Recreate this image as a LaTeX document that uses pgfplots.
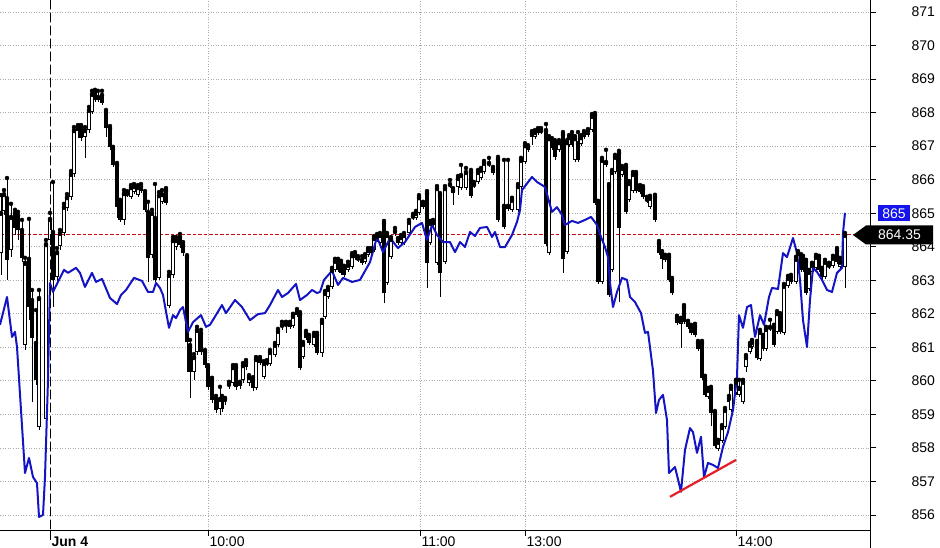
\documentclass[border=0pt]{standalone}
\usepackage{pgfplots}
\pgfplotsset{compat=1.18}
\usepackage{pgfplotstable}
\usepackage{fontspec}
\setmainfont{Liberation Sans}
\definecolor{bluel}{RGB}{20,20,195}
\definecolor{tagblue}{RGB}{20,20,235}
\definecolor{hred}{RGB}{200,10,20}
\definecolor{tred}{RGB}{228,30,40}
\definecolor{gridc}{RGB}{170,170,170}

\pgfplotstableread{
x o h l c
1 863.81 865.54 863.16 865.01
4 865.07 865.69 864.95 865.57
7 865.45 866.05 863.01 863.61
11 863.90 865.28 863.70 864.89
15 865.01 865.10 864.35 864.56
18 864.95 865.04 864.20 864.50
22 864.50 864.80 863.55 863.67
25 861.07 863.67 860.92 863.52
29 863.64 864.83 861.82 862.20
32 862.41 862.71 859.37 861.28
36 861.13 862.11 859.88 860.03
39 858.62 862.71 858.54 862.47
46 858.86 864.20 858.77 864.08
50 864.20 865.01 864.05 864.83
53 864.44 865.93 862.20 863.01
57 863.10 863.96 862.95 863.84
60 864.02 864.50 863.90 864.41
64 864.41 865.28 864.32 865.19
67 865.16 865.57 865.07 865.48
71 865.48 866.26 865.40 866.17
74 866.17 867.57 866.08 867.48
78 867.57 867.63 867.24 867.45
81 867.57 867.63 867.15 867.24
85 867.27 867.57 866.65 867.48
89 867.48 868.17 867.39 868.08
92 868.02 868.65 867.96 868.56
95 868.62 868.68 868.32 868.38
98 868.38 868.65 868.32 868.47
102 868.53 868.65 868.23 868.29
106 868.02 868.08 867.27 867.54
110 867.54 867.60 866.89 866.98
113 866.92 866.98 866.38 866.44
117 866.44 866.50 864.86 865.19
120 865.34 865.40 864.74 864.80
124 864.80 865.69 864.65 865.60
127 865.54 865.66 865.48 865.60
131 865.48 865.84 865.43 865.78
134 865.63 865.87 865.57 865.81
138 865.54 865.84 865.48 865.78
141 865.81 865.87 865.60 865.66
145 865.60 865.66 865.04 865.10
148 865.04 865.34 862.95 863.67
152 863.75 865.10 863.67 865.01
155 864.86 865.87 862.95 863.01
159 863.07 865.63 863.01 865.54
162 865.34 865.69 865.28 865.57
166 865.69 865.75 865.25 865.31
169 862.23 863.25 862.17 863.16
173 863.16 864.29 863.07 864.20
176 863.99 864.29 863.90 864.20
180 864.29 864.38 863.96 864.05
183 864.08 864.14 863.72 863.81
187 863.70 863.75 860.26 861.16
190 861.07 861.22 859.49 860.26
194 860.26 860.80 860.03 860.71
197 860.86 861.61 860.77 861.52
201 861.43 861.52 860.77 860.86
205 860.86 860.92 860.38 860.47
208 860.41 860.47 859.73 859.82
212 860.03 860.09 859.34 859.43
216 859.49 859.55 859.04 859.13
220 859.16 859.82 858.98 859.46
222 859.49 859.55 859.07 859.16
225 859.40 859.49 859.28 859.46
229 859.85 859.97 859.76 859.91
233 859.94 860.47 859.85 860.41
236 860.41 860.47 859.73 859.82
240 859.94 859.97 859.76 859.85
243 860.03 860.53 859.94 860.47
246 860.56 860.62 860.32 860.41
249 859.94 860.17 859.85 860.11
253 860.06 860.11 859.70 859.79
256 859.79 860.71 859.73 860.65
260 860.53 860.71 860.47 860.65
264 860.11 860.59 860.06 860.53
267 860.50 860.62 860.44 860.56
270 860.50 860.92 860.44 860.86
275 860.77 861.13 860.71 861.07
278 861.07 861.55 861.01 861.49
282 861.61 861.76 861.52 861.67
286 861.64 861.76 861.43 861.70
290 861.61 861.76 861.55 861.70
293 861.64 862.00 861.58 861.94
297 862.08 862.14 861.91 861.96
300 861.99 862.05 860.32 860.38
303 860.71 861.16 860.65 861.10
306 861.43 861.49 861.22 861.28
309 861.31 861.37 861.07 861.13
314 861.07 861.43 861.01 861.37
317 861.37 861.43 860.77 860.83
322 860.83 861.82 860.71 861.76
325 861.91 862.68 861.85 862.62
328 862.50 862.80 862.44 862.74
332 862.80 863.37 862.74 863.31
335 863.31 863.64 863.25 863.58
338 863.58 863.64 863.25 863.31
341 863.52 863.58 863.16 863.22
344 863.37 863.43 863.10 863.16
348 863.31 863.55 863.25 863.46
352 863.40 863.81 863.34 863.75
355 863.67 863.84 863.61 863.78
358 863.67 863.72 863.55 863.61
362 863.61 863.72 863.46 863.52
365 863.55 863.78 863.49 863.72
368 863.75 863.96 863.70 863.90
371 863.81 863.96 863.72 863.90
374 863.90 864.32 863.84 864.26
377 864.32 864.38 864.14 864.20
380 864.11 864.41 864.05 864.35
384 864.71 864.77 862.32 862.62
387 862.92 864.41 862.86 864.35
391 863.70 864.29 863.64 864.23
395 864.41 864.56 864.32 864.47
398 864.20 864.26 864.05 864.11
401 864.11 864.35 864.05 864.29
404 864.11 864.41 864.05 864.35
409 864.41 864.80 864.35 864.74
413 864.92 864.98 864.80 864.86
416 864.86 865.07 864.80 865.01
419 865.01 865.54 864.95 865.48
423 865.28 865.34 865.13 865.19
427 865.60 865.66 862.77 863.52
430 864.11 864.77 864.05 864.71
433 864.65 864.80 864.59 864.74
437 863.52 865.81 863.46 865.75
440 865.54 865.60 862.50 863.22
445 863.55 865.81 863.49 865.75
450 865.87 865.99 865.75 865.81
453 865.60 865.75 865.25 865.69
458 865.78 866.11 865.54 866.05
461 865.75 866.44 865.69 866.14
466 865.75 866.35 865.69 866.23
471 866.23 866.29 865.45 865.51
474 865.87 865.93 865.75 865.81
478 865.93 866.29 865.87 866.23
481 866.05 866.35 865.99 866.29
484 866.23 866.56 866.17 866.50
489 866.50 866.65 866.38 866.44
493 866.20 866.38 866.14 866.32
498 866.62 866.68 864.74 864.80
504 865.22 866.59 864.53 864.59
508 865.13 866.59 865.07 865.22
512 865.10 865.46 865.04 865.40
518 865.10 865.87 865.04 865.81
521 865.78 866.65 865.72 866.59
525 866.53 867.09 866.47 867.03
528 866.89 867.03 866.83 866.98
532 867.39 867.45 867.03 867.27
535 867.27 867.48 867.21 867.42
538 867.48 867.54 867.33 867.39
541 867.48 867.54 867.36 867.42
546 867.48 867.66 864.02 864.08
549 863.81 867.30 863.75 867.24
552 867.18 867.24 866.89 866.95
555 867.12 867.18 866.59 866.68
559 866.89 867.18 866.83 867.12
563 867.36 867.42 863.22 863.64
567 863.84 867.18 863.78 867.12
569 867.03 867.33 866.98 867.27
572 867.33 867.42 866.98 867.03
575 866.59 867.30 866.53 867.24
578 867.09 867.42 866.53 866.59
581 867.06 867.33 867.00 867.27
584 867.27 867.45 867.21 867.39
588 867.33 867.51 867.27 867.45
592 867.48 867.96 867.42 867.90
595 867.93 867.99 865.25 865.31
598 865.31 865.37 862.89 862.95
602 862.95 866.65 862.89 866.59
606 866.53 866.89 866.38 866.44
609 865.81 865.87 862.50 862.56
612 863.31 866.29 863.25 866.23
615 866.23 866.74 866.17 866.68
619 866.80 866.86 862.35 864.56
622 866.14 866.41 866.08 866.35
626 866.38 866.44 864.98 865.04
629 865.40 865.96 865.34 865.90
633 865.66 866.23 865.60 866.17
636 866.17 866.23 865.60 865.66
640 865.78 865.84 865.57 865.63
643 865.75 865.81 865.43 865.48
647 865.37 865.49 865.31 865.43
650 865.19 865.52 865.13 865.46
655 865.49 865.55 864.74 864.80
659 864.11 864.17 863.75 863.81
662 863.81 863.87 863.34 863.64
665 863.70 863.76 863.55 863.61
669 863.70 863.76 862.95 863.01
672 863.01 863.07 862.56 862.62
677 861.88 861.94 861.67 861.73
681 861.70 861.88 860.98 861.82
684 862.20 862.26 861.70 861.76
688 861.73 861.79 861.55 861.61
691 861.61 861.67 861.37 861.43
695 861.64 861.70 861.31 861.37
698 861.13 861.19 860.89 860.95
702 861.13 861.19 860.03 860.09
705 860.09 860.15 859.52 859.58
708 859.52 859.79 859.46 859.73
711 859.76 859.82 858.65 859.04
715 859.04 859.10 858.00 858.06
718 857.97 858.24 857.91 858.18
722 858.21 858.68 858.15 858.62
725 858.62 859.19 858.56 859.13
729 859.49 859.55 859.31 859.37
731 859.13 859.85 859.07 859.79
736 859.64 860.03 859.58 859.97
739 859.58 860.03 859.52 859.79
743 859.37 860.03 859.31 859.97
746 860.41 860.77 860.26 860.71
750 860.86 861.13 860.80 861.07
752 861.01 861.22 860.95 861.16
757 861.13 861.19 860.62 860.68
760 860.65 861.52 860.59 861.46
763 861.31 861.37 860.89 860.95
766 860.95 861.61 860.89 861.55
770 861.55 861.82 861.49 861.61
774 861.61 861.67 861.01 861.07
777 861.46 862.08 861.40 862.02
780 861.96 862.02 861.40 861.46
784 861.43 862.89 861.37 862.83
788 862.83 863.13 862.77 863.07
791 863.10 863.16 862.89 862.95
796 862.95 863.70 862.89 863.64
798 863.55 863.87 863.49 863.81
801 863.72 863.78 863.25 863.31
803 863.67 863.73 863.25 863.31
806 863.55 863.61 862.56 862.62
809 862.74 863.31 862.68 863.25
812 863.25 863.52 863.19 863.46
816 863.37 863.76 863.31 863.70
819 863.67 863.73 863.25 863.31
822 863.31 863.37 863.04 863.10
825 863.10 863.61 863.04 863.55
829 863.46 863.52 863.34 863.40
833 863.43 863.73 863.37 863.67
837 863.90 863.96 863.49 863.55
840 863.40 863.67 863.31 863.55
845 863.40 864.41 862.77 864.35
}\candles

\begin{document}
\begin{tikzpicture}
\begin{axis}[
  scale only axis, width=870bp, height=530bp,
  xmin=0, xmax=870, ymin=855.55, ymax=871.36,
  axis x line*=bottom, axis y line*=right,
  clip=false,
  xtick={50,208,420,525,736},
  xticklabels={\textbf{Jun 4},10:00,11:00,13:00,14:00},
  ytick={856,857,...,871},
  tick align=outside, major tick length=6bp,
  tick style={black, line width=0.8bp},
  grid=major,
  major grid style={gridc, line width=0.7bp, dash pattern=on 1bp off 1.6bp},
  /pgf/number format/assume math mode=true,
  tick label style={font=\fontsize{14bp}{16bp}\selectfont},
  yticklabel style={anchor=west, xshift=32bp},
  xticklabel style={anchor=north west, xshift=-2bp, yshift=3bp},
  axis line style={black, line width=0.9bp},
]
% price reference line
\addplot[hred, line width=1bp, dash pattern=on 3.5bp off 2bp, forget plot] coordinates {(0,864.35) (870,864.35)};
% wicks
\addplot[only marks, mark=none, forget plot,
  error bars/.cd, y dir=minus, y explicit, error mark=none,
  error bar style={line width=1bp, draw=black}]
  table[x=x, y=h, y error expr={\thisrow{h}-\thisrow{l}}] {\candles};
% bodies (outline / filled)
\addplot[only marks, mark=none, forget plot,
  error bars/.cd, y dir=minus, y explicit, error mark=none,
  error bar style={line width=4bp, draw=black}]
  table[x=x, y expr={max(\thisrow{o},\thisrow{c})}, y error expr={max(abs(\thisrow{c}-\thisrow{o}),0.035)}] {\candles};
% hollow interiors of rising candles
\addplot[only marks, mark=none, forget plot,
  error bars/.cd, y dir=minus, y explicit, error mark=none,
  error bar style={line width=2.1bp, draw=white}]
  table[x=x, y expr={max(\thisrow{o},\thisrow{c})-0.03}, y error expr={max(\thisrow{c}-\thisrow{o}-0.06,0)}] {\candles};
% blue line
\addplot[bluel, line width=2bp, line join=round] coordinates {
(0,861.67) (7,862.50) (12,861.31) (15,861.46) (17,861.01) (25,857.25) (29,857.70)
(33,857.13) (37,856.95) (39,855.94) (43,856.00) (45,857.13) (48,860.03) (50,862.92)
(53,862.65) (58,862.95) (64,863.31) (68,863.22) (76,863.37) (80,863.22) (85,862.80)
(92,863.22) (96,862.95) (102,863.04) (110,862.47) (117,862.29) (121,862.56) (126,862.71)
(134,863.07) (142,862.98) (148,862.65) (153,862.65) (156,862.92) (160,862.77) (163,862.56)
(169,861.58) (173,861.96) (176,861.87) (180,862.11) (183,862.20) (188,861.46) (193,861.75)
(201,861.96) (206,861.61) (210,861.67) (222,862.26) (226,862.02) (235,862.41) (242,862.20)
(250,861.81) (258,861.99) (265,862.02) (270,862.26) (278,862.71) (282,862.50) (288,862.62)
(296,862.89) (300,862.41) (307,862.56) (312,862.71) (317,862.62) (320,862.65) (324,863.01)
(332,863.28) (338,862.86) (343,863.07) (352,862.95) (360,863.01) (370,863.54) (377,864.29)
(383,863.84) (390,864.26) (398,863.96) (405,864.14) (415,864.59) (422,864.71) (427,864.20)
(432,864.65) (437,864.35) (443,864.14) (450,864.14) (455,863.84) (460,864.14) (465,863.99)
(470,864.44) (475,864.32) (480,864.56) (487,864.59) (492,864.29) (495,864.44) (500,863.99)
(505,863.99) (512,864.35) (517,864.74) (520,865.09) (522,865.69) (532,866.08) (537,865.93)
(542,865.84) (545,865.78) (552,865.04) (557,865.18) (562,864.95) (565,864.65) (572,864.77)
(578,864.71) (585,864.80) (591,864.89) (597,864.65) (601,864.29) (605,863.99) (608,863.69)
(610,862.92) (613,862.20) (617,862.65) (622,863.07) (627,863.01) (630,862.50) (635,862.35)
(641,862.02) (645,861.43) (648,861.46) (650,861.00) (653,860.30) (656,859.04) (659,859.43)
(663,859.58) (667,858.83) (669,857.25) (675,857.43) (681,856.69) (685,857.94) (690,858.59)
(693,858.47) (697,857.85) (701,858.33) (704,857.13) (708,857.55) (713,857.49) (718,857.40)
(723,858.03) (728,858.47) (733,859.13) (737,860.11) (739,861.96) (743,861.58) (747,862.20)
(751,862.26) (755,861.31) (760,861.96) (764,861.67) (769,862.50) (772,862.77) (778,862.74)
(783,863.81) (787,863.69) (793,864.26) (797,863.81) (800,863.01) (803,861.81) (807,861.01)
(810,862.41) (813,863.37) (817,863.25) (822,863.01) (827,862.71) (832,862.65) (837,863.22)
(842,863.37) (843,864.41) (845,865.01)
};
% trend line
\addplot[tred, line width=2.2bp] coordinates {(670,856.54) (736,857.64)};
% session divider
\draw[black, line width=1bp, dash pattern=on 9bp off 4bp] (axis cs:50,871.36) -- (axis cs:50,855.26);
\draw[black, line width=0.9bp] (axis cs:870,855.55) -- (axis cs:870,855.0);
\coordinate (tagA) at (axis cs:894,865);
\coordinate (tagB) at (axis cs:866,864.35);
\end{axis}
\node[fill=tagblue, text=white, inner sep=0pt, minimum width=32bp, minimum height=16bp,
  font=\fontsize{14bp}{16bp}\selectfont] at (tagA) {865};
\fill[black, shift={(tagB)}] (-13bp,0) -- (0,9.5bp) -- (67bp,9.5bp) -- (67bp,-9.5bp) -- (0,-9.5bp) -- cycle;
\node[text=white, inner sep=0pt, font=\fontsize{14bp}{16bp}\selectfont, shift={(33.5bp,0)}] at (tagB) {864.35};
\pgfresetboundingbox
\path[use as bounding box] (0,-18bp) rectangle (940bp,530bp);
\end{tikzpicture}
\end{document}
